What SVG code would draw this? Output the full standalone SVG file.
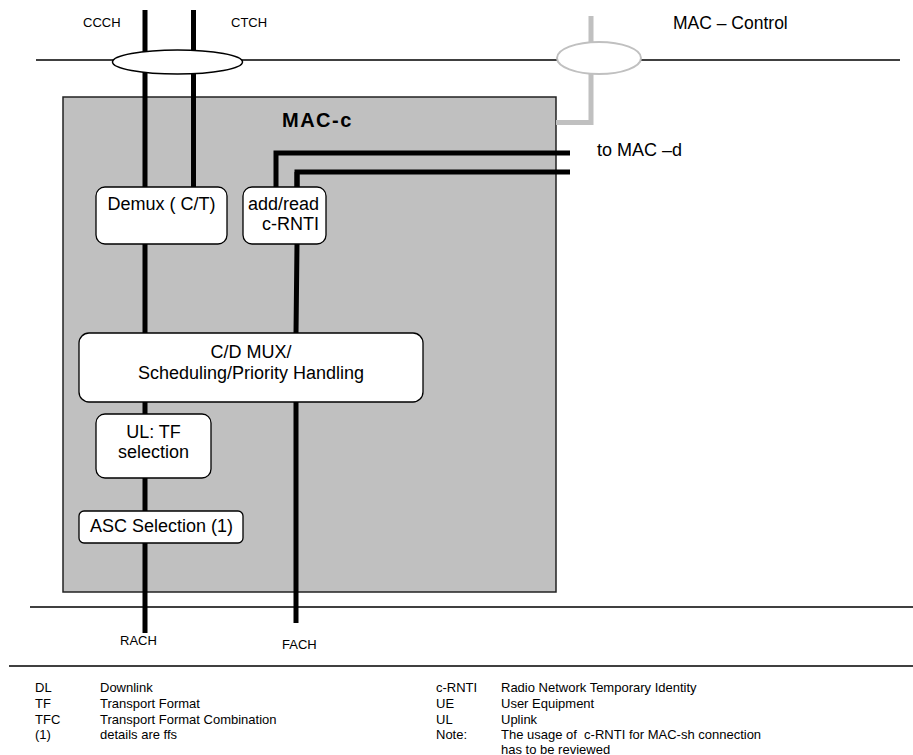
<svg xmlns="http://www.w3.org/2000/svg" width="913" height="755" viewBox="0 0 913 755">
<style>
text{font-family:"Liberation Sans",Arial,sans-serif;fill:#000}
.lbl{font-size:13px}
.main{font-size:18px}
.leg{font-size:13px}
.bus{stroke:#000;stroke-width:1.5;fill:none}
.ch{stroke:#000;stroke-width:5;fill:none;stroke-linejoin:miter}
.box{fill:#fff;stroke:#000;stroke-width:1.3}
</style>
<rect width="913" height="755" fill="#fff"/>
<g id="buses">
<line class="bus" x1="36" y1="60" x2="900" y2="60"/>
<line class="bus" x1="30" y1="607" x2="913" y2="607"/>
<line class="bus" x1="9" y1="666" x2="913" y2="666"/>
</g>
<g id="mac-c-frame">
<rect x="63" y="97" width="493" height="495" fill="#c0c0c0" stroke="#222" stroke-width="1.5"/>
<text x="282" y="127" font-weight="bold" letter-spacing="1.5" style="font-size:20px">MAC-c</text>
</g>
<g id="connectors">
<line class="ch" x1="145" y1="10" x2="145" y2="633"/>
<line class="ch" x1="193.5" y1="10" x2="193.5" y2="187"/>
<path class="ch" d="M276,187 V153 H570"/>
<path class="ch" d="M297,172 V244 L296,333 V623"/>
<path class="ch" d="M297,187 V172 H570"/>
<path d="M591,16 V122.5 H556" fill="none" stroke="#c0c0c0" stroke-width="5"/>
</g>
<g id="ellipse-ccch-ctch">
<ellipse cx="177.5" cy="62" rx="65" ry="12" fill="#fff" stroke="#000" stroke-width="1.5"/>
</g>
<g id="ellipse-mac-control">
<ellipse cx="599" cy="58" rx="42" ry="16" fill="#fff" stroke="#c0c0c0" stroke-width="2"/>
</g>
<g id="demux">
<rect class="box" x="96" y="187" width="131" height="57" rx="9"/>
<text class="main" x="161.5" y="210" text-anchor="middle">Demux ( C/T)</text>
</g>
<g id="add-read">
<rect class="box" x="243" y="187" width="83" height="57" rx="9"/>
<text class="main" x="319" y="210" text-anchor="end">add/read</text>
<text class="main" x="319" y="230" text-anchor="end">c-RNTI</text>
</g>
<g id="cd-mux">
<rect class="box" x="79" y="333" width="344" height="69" rx="10"/>
<text class="main" x="251" y="358" text-anchor="middle">C/D MUX/</text>
<text class="main" x="251" y="379" text-anchor="middle">Scheduling/Priority Handling</text>
</g>
<g id="ul-tf">
<rect class="box" x="96" y="414" width="115" height="64" rx="9"/>
<text class="main" x="153.5" y="438" text-anchor="middle">UL: TF</text>
<text class="main" x="153.5" y="458" text-anchor="middle">selection</text>
</g>
<g id="asc">
<rect class="box" x="79" y="511" width="164" height="32" rx="5"/>
<text class="main" x="90" y="532">ASC Selection (1)</text>
</g>
<g id="labels">
<text class="lbl" x="83" y="27">CCCH</text>
<text class="lbl" x="231" y="27">CTCH</text>
<text x="673" y="29" style="font-size:17.5px">MAC – Control</text>
<text class="main" x="597" y="156">to MAC –d</text>
<text class="lbl" x="120" y="645">RACH</text>
<text class="lbl" x="282" y="649">FACH</text>
</g>
<g id="legend">
<text class="leg" x="35" y="692">DL</text><text class="leg" x="100" y="692">Downlink</text>
<text class="leg" x="35" y="708">TF</text><text class="leg" x="100" y="708">Transport Format</text>
<text class="leg" x="35" y="724">TFC</text><text class="leg" x="100" y="724">Transport Format Combination</text>
<text class="leg" x="35" y="739">(1)</text><text class="leg" x="100" y="739">details are ffs</text>
<text class="leg" x="436" y="692">c-RNTI</text><text class="leg" x="501" y="692">Radio Network Temporary Identity</text>
<text class="leg" x="436" y="708">UE</text><text class="leg" x="501" y="708">User Equipment</text>
<text class="leg" x="436" y="724">UL</text><text class="leg" x="501" y="724">Uplink</text>
<text class="leg" x="436" y="739">Note:</text><text class="leg" x="501" y="739">The usage of&#160; c-RNTI for MAC-sh connection</text>
<text class="leg" x="501" y="753.5">has to be reviewed</text>
</g>
</svg>
